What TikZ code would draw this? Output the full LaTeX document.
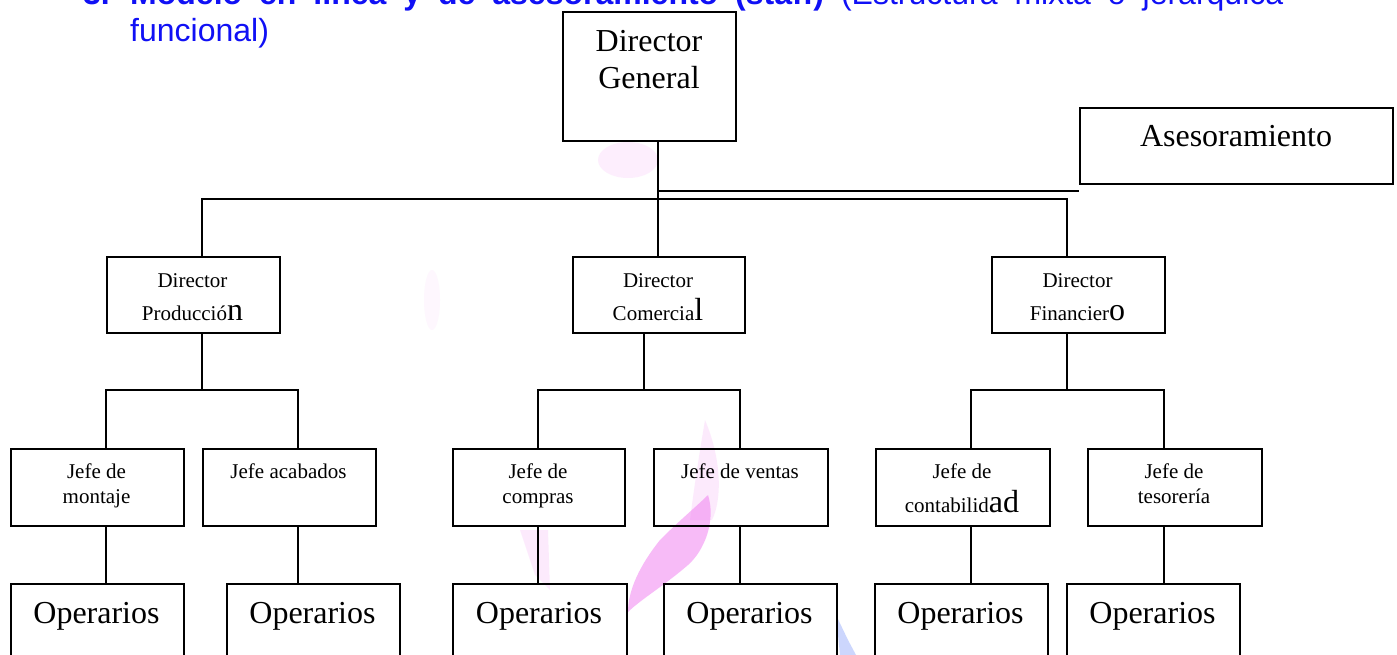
\documentclass[tikz,border=0pt]{standalone}
\usepackage{fontspec}
\setmainfont{Liberation Serif}
\newfontfamily\arial{Liberation Sans}
\definecolor{titleblue}{RGB}{16,16,245}
\definecolor{markpink}{RGB}{240,120,240}
\definecolor{markblue}{RGB}{110,140,250}
\begin{document}
\begin{tikzpicture}[x=1pt,y=1pt,
  box/.style={draw, line width=2.2pt, inner sep=0pt, anchor=north west},
  wire/.style={line width=1.9pt},
  thinwire/.style={line width=1.6pt},
  big/.style={font=\fontsize{32}{37}\selectfont, inner sep=0pt, anchor=base},
  small/.style={font=\fontsize{21}{25}\selectfont, inner sep=0pt, anchor=base},
  ttl/.style={font=\arial\fontsize{32}{37}\selectfont, text=titleblue, inner sep=0pt, anchor=base west}]
\clip (0,0) rectangle (1397,-655);
\fill[white] (0,0) rectangle (1397,-655);

% faint background watermark strokes
\fill[markpink, opacity=0.15] (705,-420) .. controls (722,-460) and (722,-500) .. (712,-520)
  -- (690,-520) .. controls (695,-480) and (700,-450) .. (705,-420) -- cycle;
\fill[markpink, opacity=0.5] (708,-495) .. controls (716,-520) and (705,-550) .. (688,-565)
  .. controls (665,-585) and (640,-600) .. (628,-612)
  .. controls (628,-590) and (640,-565) .. (660,-540)
  .. controls (680,-520) and (698,-505) .. (708,-495) -- cycle;
\fill[markpink, opacity=0.15] (520,-530) -- (548,-530) -- (550,-590) -- (535,-575) -- cycle;
\fill[markpink, opacity=0.12] (628,-160) ellipse (30pt and 18pt);
\fill[markpink, opacity=0.06] (432,-300) ellipse (8pt and 30pt);
\fill[markblue, opacity=0.35] (836,-615) -- (848,-640) -- (856,-655) -- (840,-655) -- cycle;

% heading
\node[ttl] (num) at (83,-5) {\bfseries 3.};
\node[ttl] (ttl1) at (130,-5) {\makebox[1153pt][s]{\bfseries Modelo en línea y de asesoramiento (staff) \mdseries (Estructura mixta o jerárquica}};
\node[ttl] (ttl2) at (130,-42) {funcional)};

% boxes
\node[box, minimum width=173pt, minimum height=129pt] (dg) at (562,-11) {};
\node[box, minimum width=313pt, minimum height=76pt] (as) at (1079,-107) {};
\node[box, minimum width=173pt, minimum height=76pt] (dp) at (106,-256) {};
\node[box, minimum width=172pt, minimum height=76pt] (dc) at (572,-256) {};
\node[box, minimum width=173pt, minimum height=76pt] (df) at (991,-256) {};
\node[box, minimum width=173pt, minimum height=77pt] (jm) at (10,-448) {};
\node[box, minimum width=173pt, minimum height=77pt] (ja) at (202,-448) {};
\node[box, minimum width=172pt, minimum height=77pt] (jc) at (452,-448) {};
\node[box, minimum width=174pt, minimum height=77pt] (jv) at (653,-448) {};
\node[box, minimum width=174pt, minimum height=77pt] (jk) at (875,-448) {};
\node[box, minimum width=174pt, minimum height=77pt] (jt) at (1087,-448) {};
\node[box, minimum width=173pt, minimum height=110pt] (o1) at (10,-583) {};
\node[box, minimum width=173pt, minimum height=110pt] (o2) at (226,-583) {};
\node[box, minimum width=174pt, minimum height=110pt] (o3) at (452,-583) {};
\node[box, minimum width=173pt, minimum height=110pt] (o4) at (663,-583) {};
\node[box, minimum width=173pt, minimum height=110pt] (o5) at (874,-583) {};
\node[box, minimum width=173pt, minimum height=110pt] (o6) at (1066,-583) {};

% box texts
\node[big] (dgt1) at (649,-52) {Director};
\node[big] (dgt2) at (649,-89) {General};
\node[big] (ast) at (1236,-147) {Asesoramiento};
\node[small] (dpt1) at (192.5,-287) {Director};
\node[small] (dpt2) at (192.5,-320) {Producció{\fontsize{32}{37}\selectfont n}};
\node[small] (dct1) at (658,-287) {Director};
\node[small] (dct2) at (658,-320) {Comercia{\fontsize{32}{37}\selectfont l}};
\node[small] (dft1) at (1077.5,-287) {Director};
\node[small] (dft2) at (1077.5,-320) {Financier{\fontsize{32}{37}\selectfont o}};
\node[small] (jmt1) at (96.5,-478) {Jefe de};
\node[small] (jmt2) at (96.5,-503) {montaje};
\node[small] (jat1) at (288.5,-478) {Jefe acabados};
\node[small] (jct1) at (538,-478) {Jefe de};
\node[small] (jct2) at (538,-503) {compras};
\node[small] (jvt1) at (740,-478) {Jefe de ventas};
\node[small] (jkt1) at (962,-478) {Jefe de};
\node[small] (jkt2) at (962,-512) {contabilid{\fontsize{32}{37}\selectfont ad}};
\node[small] (jtt1) at (1174,-478) {Jefe de};
\node[small] (jtt2) at (1174,-503) {tesorería};
\foreach \o/\x in {o1/96.5, o2/312.5, o3/539, o4/749.5, o5/960.5, o6/1152.5}
  \node[big] (\o t) at (\x,-623) {Operarios};

% junction points of the lines
\coordinate (trunk) at (658,-199);
\coordinate (staff) at (658,-191);
\coordinate (busL) at (202,-199);
\coordinate (busR) at (1067,-199);
\coordinate (pA) at (106,-390);
\coordinate (pB) at (298,-390);
\coordinate (pC) at (202,-390);
\coordinate (cA) at (538,-390);
\coordinate (cB) at (740,-390);
\coordinate (cC) at (644,-390);
\coordinate (fA) at (971,-390);
\coordinate (fB) at (1164,-390);
\coordinate (fC) at (1067,-390);

% line from the top and staff line
\draw[wire] (trunk |- dg.south) -- (trunk |- dc.north);
\draw[wire] (staff) -- (staff -| as.west);
\draw[wire] (busL |- dp.north) -- (busL) -- (busR) -- (busR |- df.north);

% departments to section heads
\draw[wire] (pC |- dp.south) -- (pC);
\draw[wire] (pA |- jm.north) -- (pA) -- (pB) -- (pB |- ja.north);
\draw[wire] (cC |- dc.south) -- (cC);
\draw[wire] (cA |- jc.north) -- (cA) -- (cB) -- (cB |- jv.north);
\draw[wire] (fC |- df.south) -- (fC);
\draw[wire] (fA |- jk.north) -- (fA) -- (fB) -- (fB |- jt.north);

% section heads to workers
\draw[thinwire] (pA |- jm.south) -- (pA |- o1.north);
\draw[thinwire] (pB |- ja.south) -- (pB |- o2.north);
\draw[thinwire] (cA |- jc.south) -- (cA |- o3.north);
\draw[thinwire] (cB |- jv.south) -- (cB |- o4.north);
\draw[thinwire] (fA |- jk.south) -- (fA |- o5.north);
\draw[thinwire] (fB |- jt.south) -- (fB |- o6.north);
\end{tikzpicture}
\end{document}
